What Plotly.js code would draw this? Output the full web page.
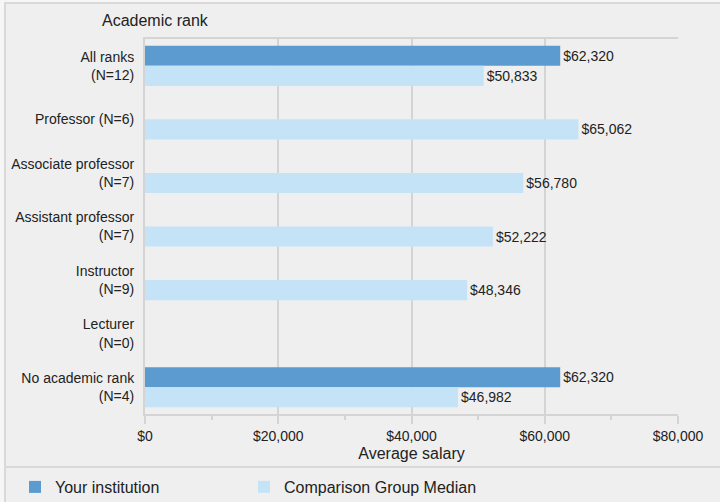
<!DOCTYPE html>
<html>
<head>
<meta charset="utf-8">
<script src="https://cdn.plot.ly/plotly-3.0.1.min.js"></script>
<style>html,body{margin:0;padding:0;background:#f6f6f6;}#chart{width:720px;height:502px;}</style>
</head>
<body>
<div id="chart"></div>
<script>
var categories = ["All ranks<br>(N=12)", "Professor (N=6)", "Associate professor<br>(N=7)", "Assistant professor<br>(N=7)", "Instructor<br>(N=9)", "Lecturer<br>(N=0)", "No academic rank<br>(N=4)"];
var yourInstitution = [62320, null, null, null, null, null, 62320];
var comparisonMedian = [50833, 65062, 56780, 52222, 48346, null, 46982];
var seriesNames = ["Your institution", "Comparison Group Median"];
var tickValues = [0, 20000, 40000, 60000, 80000];
var tickLabels = ["$0", "$20,000", "$40,000", "$60,000", "$80,000"];

var W = 720, H = 502, L = 145, R = 42, T = 39, B = 88;
var pw = W - L - R, ph = H - T - B;
function px2x(px){ return (px - L) / pw; }
function py2y(py){ return (H - B - py) / ph; }

var font = "Liberation Sans, Arial, Helvetica, sans-serif";
var textColor = "#222222";
var gridColor = "#d4d4d4";

var traces = [
  {type: "bar", orientation: "h", name: seriesNames[0], y: categories, x: yourInstitution,
   marker: {color: "#5b9bd0"}, texttemplate: "$%{x:,}", textposition: "outside",
   textfont: {size: 14, color: textColor, family: font}, cliponaxis: false, hoverinfo: "x",
   legend: "legend"},
  {type: "bar", orientation: "h", name: seriesNames[1], y: categories, x: comparisonMedian,
   marker: {color: "#c5e3f7"}, texttemplate: "$%{x:,}", textposition: "outside",
   textfont: {size: 14, color: textColor, family: font}, cliponaxis: false, hoverinfo: "x",
   legend: "legend2"}
];

var legendBase = {orientation: "h", xanchor: "left", y: py2y(487), yanchor: "middle",
                  font: {size: 16, color: textColor}, bgcolor: "rgba(0,0,0,0)"};

var layout = {
  width: W, height: H,
  margin: {l: L, r: R, t: T, b: B, pad: 0, autoexpand: false},
  paper_bgcolor: "#f6f6f6",
  plot_bgcolor: "rgba(0,0,0,0)",
  font: {family: font, size: 14, color: textColor},
  barmode: "group", bargap: 0.25, bargroupgap: 0,
  title: {text: "Academic rank", font: {size: 16, color: textColor, family: font},
          xref: "container", yref: "container", x: 102/W, xanchor: "left", y: (H-20)/H, yanchor: "middle"},
  xaxis: {range: [0, 80000], tickvals: tickValues, ticktext: tickLabels,
          showgrid: true, gridcolor: gridColor, gridwidth: 2,
          showline: true, linecolor: gridColor, linewidth: 2, mirror: true,
          zeroline: false, ticks: "outside", ticklen: 8, tickwidth: 2, tickcolor: gridColor,
          minor: {dtick: 10000, tick0: 0, ticks: "outside", ticklen: 4, tickwidth: 2, tickcolor: gridColor, showgrid: false},
          tickfont: {size: 14, color: textColor}, fixedrange: true, automargin: false,
          title: {text: "Average salary", font: {size: 16, color: textColor}, standoff: 5}},
  yaxis: {autorange: "reversed", showgrid: false, showline: true, linecolor: gridColor, linewidth: 2,
          mirror: false, ticks: "", ticklabelstandoff: 6, automargin: false,
          tickfont: {size: 14, color: textColor}, fixedrange: true},
  showlegend: true,
  legend: Object.assign({}, legendBase, {x: px2x(15)}),
  legend2: Object.assign({}, legendBase, {x: px2x(244)}),
  shapes: [
    {type: "rect", xref: "paper", yref: "paper", layer: "below",
     x0: px2x(5), x1: px2x(730), y0: py2y(3), y1: py2y(512),
     fillcolor: "#efefef", line: {color: "#d9d9d9", width: 2}},
    {type: "line", xref: "paper", yref: "paper", layer: "below",
     x0: px2x(5), x1: px2x(730), y0: py2y(467), y1: py2y(467),
     line: {color: "#d9d9d9", width: 2}}
  ]
};

Plotly.newPlot("chart", traces, layout, {displayModeBar: false, staticPlot: true});
</script>
</body>
</html>
